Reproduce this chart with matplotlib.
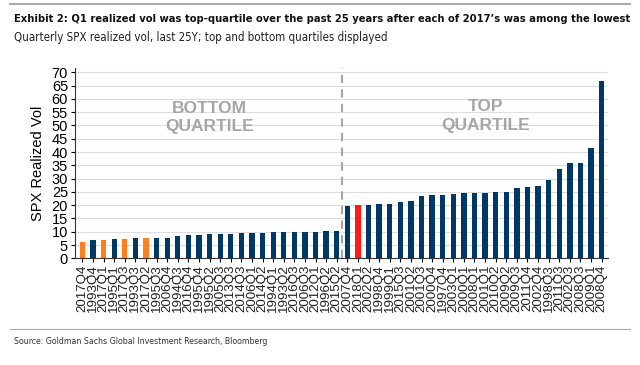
import matplotlib
matplotlib.use("Agg")
import matplotlib.pyplot as plt
from matplotlib.lines import Line2D

quarters_bottom = ["2017Q4", "1993Q4", "2017Q1", "1995Q1", "2017Q3", "1993Q3", "2017Q2",
                   "1995Q3", "2006Q4", "1994Q3", "2016Q4", "1995Q4", "1995Q2", "2005Q3",
                   "2013Q3", "2014Q3", "2006Q1", "2014Q2", "1994Q1", "1993Q2", "2016Q3",
                   "2006Q3", "2012Q1", "1996Q2", "2015Q2"]
vol_bottom = [6.0, 7.0, 6.9, 7.1, 7.25, 7.5, 7.6, 7.6, 7.6, 8.25, 8.6, 8.6, 9.0, 9.0,
              9.25, 9.5, 9.5, 9.5, 9.9, 10.0, 10.0, 9.9, 10.0, 10.1, 10.1]
quarters_top = ["2007Q4", "2018Q1", "2002Q2", "1998Q4", "1999Q1", "2015Q3", "2001Q2",
                "2001Q3", "2000Q4", "1997Q4", "2003Q1", "2000Q1", "2008Q1", "2001Q1",
                "2010Q2", "2009Q2", "2009Q3", "2011Q4", "2002Q4", "1998Q3", "2011Q3",
                "2002Q3", "2008Q3", "2009Q1", "2008Q4"]
vol_top = [19.6, 20.1, 20.1, 20.4, 20.5, 21.1, 21.5, 23.3, 23.9, 23.9, 24.1, 24.6, 24.6,
           24.6, 25.1, 25.1, 26.5, 26.8, 27.2, 29.4, 33.7, 35.7, 35.9, 41.5, 66.8]
highlight_2017 = ["2017Q4", "2017Q1", "2017Q3", "2017Q2"]
highlight_2018 = ["2018Q1"]

labels = quarters_bottom + quarters_top
values = vol_bottom + vol_top

NAVY = "#003865"
ORANGE = "#FF7F1E"
RED = "#FF1A1A"
colors = [ORANGE if q in highlight_2017 else RED if q in highlight_2018 else NAVY for q in labels]

W, H = 640, 365
fig = plt.figure(figsize=(6.4, 3.65), dpi=100)
ax = fig.add_axes([75 / W, 1 - 258.3 / H, 533 / W, 190 / H])

x = list(range(len(labels)))
ax.bar(x, values, width=0.5, color=colors, zorder=3)
ax.set_xlim(-0.7, len(labels) - 0.4)
ax.set_ylim(0, 71.5)
ax.set_yticks(range(0, 71, 5))
ax.yaxis.grid(True, color="#DDDDDD", linewidth=0.8, zorder=0)
ax.set_xticks(x)
ax.set_xticklabels(labels, rotation=90, fontsize=9.6, color="#222222", family="Liberation Sans")
ax.tick_params(axis="x", length=3, width=0.8, pad=1.5)
ax.tick_params(axis="y", labelsize=10.5, length=3, width=0.8, pad=2)
for t in ax.get_yticklabels():
    t.set_family("Liberation Sans")
for s in ["top", "right"]:
    ax.spines[s].set_visible(False)
ax.spines["left"].set_color("#333333")
ax.spines["bottom"].set_color("#333333")
ax.set_ylabel("SPX Realized Vol", fontsize=10.5, labelpad=5, family="Liberation Sans")

split = len(quarters_bottom) - 0.5
ax.axvline(split, color="#A6A6A6", linestyle=(0, (4, 3)), linewidth=1.5, zorder=2)

ax.text(12, 53, "BOTTOM\nQUARTILE", ha="center", va="center", fontsize=12.5,
        fontweight="bold", color="#A6A6A6", linespacing=1.3, zorder=4, family="Liberation Sans")
ax.text(38, 53.6, "TOP\nQUARTILE", ha="center", va="center", fontsize=12.5,
        fontweight="bold", color="#A6A6A6", linespacing=1.3, zorder=4, family="Liberation Sans")

fig.add_artist(Line2D([10 / W, 630 / W], [1 - 4 / H, 1 - 4 / H], color="#AAAAAA", linewidth=1.5))
fig.add_artist(Line2D([10 / W, 630 / W], [1 - 329 / H, 1 - 329 / H], color="#AAAAAA", linewidth=0.8))

fam = ["DejaVu Sans"]
fig.text(14 / W, 1 - 19 / H,
         "Exhibit 2: Q1 realized vol was top-quartile over the past 25 years after each of 2017\u2019s was among the lowest",
         fontsize=8.0, fontweight="bold", family=fam, fontstretch="condensed",
         va="center", ha="left", color="#111111")
fig.text(14 / W, 1 - 38 / H, "Quarterly SPX realized vol, last 25Y; top and bottom quartiles displayed",
         fontsize=8.3, family=fam, fontstretch="condensed", va="center", ha="left", color="#222222")
fig.text(14 / W, 1 - 342 / H, "Source: Goldman Sachs Global Investment Research, Bloomberg",
         fontsize=6.3, family=fam, fontstretch="condensed", va="center", ha="left", color="#333333")

fig.savefig("out.png", dpi=100)
